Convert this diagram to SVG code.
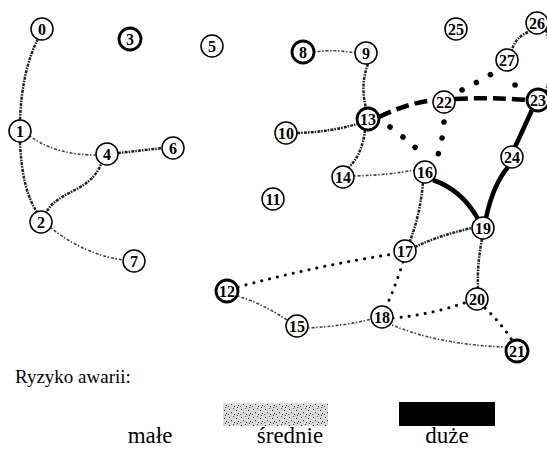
<svg xmlns="http://www.w3.org/2000/svg" width="547" height="449" viewBox="0 0 547 449">
<style>
.n circle{fill:#fff;stroke:#000;stroke-width:1.5}
.n.b circle{stroke-width:2.8}
.n text{font-family:"Liberation Serif","DejaVu Serif",serif;font-weight:700;font-size:16px;text-anchor:middle;fill:#000}
.e{fill:none}
.med{stroke:#222;stroke-width:2.5;stroke-dasharray:3 1 1.5 1.2}
.low{stroke:#444;stroke-width:1.6;stroke-dasharray:1.5 2 3 1.5}
.dot{stroke:#000;stroke-width:3;stroke-linecap:round;stroke-dasharray:0.1 8}
.big{stroke:#000;stroke-width:5.5;stroke-linecap:round;stroke-dasharray:0.1 16}
.dash{stroke:#000;stroke-width:4.5;stroke-dasharray:13 6}
.solid{stroke:#000;stroke-width:4.5}
.lbl{font-family:"Liberation Serif",serif;font-size:19px;fill:#000}
.lg{font-family:"Liberation Serif",serif;font-size:23px;fill:#000;text-anchor:middle}
</style>
<defs>
<pattern id="noise" width="12" height="8" patternUnits="userSpaceOnUse">
<rect width="12" height="8" fill="#d8d8d8"/>
<rect x="1" y="1" width="1" height="1" fill="#111"/>
<rect x="5" y="0" width="1" height="1" fill="#555"/>
<rect x="8" y="2" width="1" height="1" fill="#111"/>
<rect x="3" y="4" width="1" height="1" fill="#333"/>
<rect x="10" y="5" width="1" height="1" fill="#222"/>
<rect x="6" y="6" width="1" height="1" fill="#111"/>
<rect x="0" y="6" width="1" height="1" fill="#666"/>
<rect x="9" y="7" width="1" height="1" fill="#444"/>
<rect x="2" y="3" width="1" height="1" fill="#fff"/>
<rect x="7" y="4" width="1" height="1" fill="#fff"/>
<rect x="11" y="1" width="1" height="1" fill="#fff"/>
<rect x="4" y="7" width="1" height="1" fill="#fff"/>
</pattern>
</defs>
<g id="connectors">
<path class="e med" d="M38,39 Q22,70 20,120"/>
<path class="e med" d="M20,142 Q22,190 37,212"/>
<path class="e low" d="M30,136 Q55,155 96,155"/>
<path class="e med" d="M47,211 C60,190 90,192 101,164"/>
<path class="e med" d="M118,153 L163,148"/>
<path class="e low" d="M51,228 Q85,255 124,260"/>
<path class="e low" d="M314,52 Q335,49 355,53"/>
<path class="e med" d="M368,64 Q360,85 366,108"/>
<path class="e med" d="M297,133 Q330,132 357,124"/>
<path class="e med" d="M365,130 Q362,155 349,167"/>
<path class="e low" d="M354,176 Q390,175 414,170"/>
<path class="e med" d="M423,183 Q420,215 410,241"/>
<path class="e med" d="M415,247 Q440,235 472,228"/>
<path class="e med" d="M482,239 Q477,265 478,288"/>
<path class="e med" d="M528,32 Q515,38 512,50"/>
<path class="e med" d="M546,30 Q555,60 546,92"/>
<path class="e dot" d="M238,287 Q320,265 394,254"/>
<path class="e low" d="M238,296 Q265,305 287,320"/>
<path class="e low" d="M308,328 Q345,326 372,319"/>
<path class="e dot" d="M403,262 Q396,285 386,307"/>
<path class="e dot" d="M393,318 Q430,315 467,302"/>
<path class="e low" d="M392,325 Q440,345 506,347"/>
<path class="e dot" d="M485,308 Q500,322 512,340"/>
<path class="e solid" d="M433,180 Q462,190 478,219"/>
<path class="e solid" d="M486,218 Q493,185 508,167"/>
<path class="e solid" d="M515,147 L532,110"/>
<path class="e dash" d="M379,117 Q405,104 433,100"/>
<path class="e dash" d="M455,99 Q490,97 527,100"/>
<path class="e big" d="M390,127 Q405,138 418,150"/>
<path class="e big" d="M444,122 Q443,138 438,155"/>
<path class="e big" d="M462,90 Q478,82 493,73"/>
<path class="e big" d="M515,85 L515,85"/>
</g>
<g id="n0" class="n"><circle cx="42" cy="29" r="11"/><text x="42" y="35">0</text></g>
<g id="n1" class="n"><circle cx="20" cy="131" r="11"/><text x="20" y="137">1</text></g>
<g id="n2" class="n"><circle cx="41" cy="222" r="11"/><text x="41" y="228">2</text></g>
<g id="n3" class="n b"><circle cx="130" cy="39" r="11"/><text x="130" y="45">3</text></g>
<g id="n4" class="n"><circle cx="107" cy="154" r="11"/><text x="107" y="160">4</text></g>
<g id="n5" class="n"><circle cx="212" cy="46" r="11"/><text x="212" y="52">5</text></g>
<g id="n6" class="n"><circle cx="173" cy="148" r="11"/><text x="173" y="154">6</text></g>
<g id="n7" class="n"><circle cx="134" cy="261" r="11"/><text x="134" y="267">7</text></g>
<g id="n8" class="n b"><circle cx="303" cy="52" r="11"/><text x="303" y="58">8</text></g>
<g id="n9" class="n"><circle cx="366" cy="53" r="11"/><text x="366" y="59">9</text></g>
<g id="n10" class="n"><circle cx="286" cy="133" r="11"/><text x="286" y="139">10</text></g>
<g id="n11" class="n"><circle cx="273" cy="199" r="11"/><text x="273" y="205">11</text></g>
<g id="n12" class="n b"><circle cx="227" cy="291" r="11"/><text x="227" y="297">12</text></g>
<g id="n13" class="n b"><circle cx="368" cy="119" r="11"/><text x="368" y="125">13</text></g>
<g id="n14" class="n"><circle cx="343" cy="177" r="11"/><text x="343" y="183">14</text></g>
<g id="n15" class="n"><circle cx="297" cy="326" r="11"/><text x="297" y="332">15</text></g>
<g id="n16" class="n"><circle cx="425" cy="172" r="11"/><text x="425" y="178">16</text></g>
<g id="n17" class="n"><circle cx="405" cy="251" r="11"/><text x="405" y="257">17</text></g>
<g id="n18" class="n"><circle cx="382" cy="317" r="11"/><text x="382" y="323">18</text></g>
<g id="n19" class="n"><circle cx="483" cy="228" r="11"/><text x="483" y="234">19</text></g>
<g id="n20" class="n"><circle cx="477" cy="299" r="11"/><text x="477" y="305">20</text></g>
<g id="n21" class="n b"><circle cx="517" cy="351" r="11"/><text x="517" y="357">21</text></g>
<g id="n22" class="n"><circle cx="444" cy="102" r="11"/><text x="444" y="108">22</text></g>
<g id="n23" class="n b"><circle cx="538" cy="100" r="11"/><text x="538" y="106">23</text></g>
<g id="n24" class="n"><circle cx="512" cy="157" r="11"/><text x="512" y="163">24</text></g>
<g id="n25" class="n"><circle cx="456" cy="29" r="11"/><text x="456" y="35">25</text></g>
<g id="n26" class="n"><circle cx="537" cy="23" r="11"/><text x="537" y="29">26</text></g>
<g id="n27" class="n"><circle cx="507" cy="60" r="11"/><text x="507" y="66">27</text></g>
<g id="legend">
<text class="lbl" x="15" y="383">Ryzyko awarii:</text>
<rect x="223" y="403" width="105" height="23" fill="url(#noise)"/>
<rect x="399" y="402" width="96" height="24" fill="#000"/>
<text class="lg" x="150" y="443">małe</text>
<text class="lg" x="290" y="443">średnie</text>
<text class="lg" x="447" y="443">duże</text>
</g>
</svg>
